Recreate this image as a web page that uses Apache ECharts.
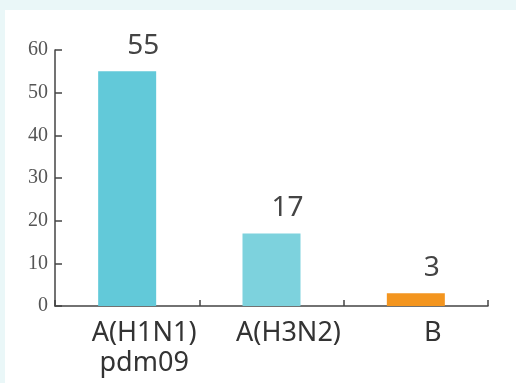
<!DOCTYPE html>
<html><head><meta charset="utf-8">
<script src="https://cdn.jsdelivr.net/npm/echarts@6/dist/echarts.min.js"></script>
<style>html,body{margin:0;padding:0;background:#fff;}#c{width:516px;height:383px;}</style>
</head><body><div id="c"></div>
<script>
var categories = ['A(H1N1)\npdm09', 'A(H3N2)', 'B'];
var values = [55, 17, 3];
var barColors = ['#62c9d9', '#7dd2dd', '#f3951f'];
var yTicks = [0, 10, 20, 30, 40, 50, 60];

var chart = echarts.init(document.getElementById('c'), null, {renderer: 'canvas'});
chart.setOption({
  backgroundColor: '#eaf7f8',
  animation: false,
  graphic: [{type: 'rect', shape: {x: 5, y: 10, width: 520, height: 380}, style: {fill: '#ffffff'}, z: -10, silent: true}],
  grid: {left: 55, right: 28, top: 50, bottom: 77, containLabel: false},
  xAxis: {
    type: 'category',
    data: categories,
    axisLine: {lineStyle: {color: '#444', width: 1.5}},
    axisTick: {show: true, inside: true, length: 6, alignWithLabel: false, lineStyle: {color: '#444', width: 1.5}},
    axisLabel: {color: '#333', fontSize: 27, fontFamily: 'Noto Sans', lineHeight: 30, margin: 12, interval: 0, padding: [0, 0, 0, 34]}
  },
  yAxis: {
    type: 'value',
    min: yTicks[0], max: yTicks[yTicks.length - 1], interval: 10,
    splitLine: {show: false},
    axisLine: {show: true, lineStyle: {color: '#444', width: 1.5}},
    axisTick: {show: true, inside: true, length: 7, lineStyle: {color: '#444', width: 1.5}},
    axisLabel: {color: '#555', fontSize: 20, fontFamily: 'Liberation Serif', margin: 7, padding: [5, 0, 0, 0]}
  },
  series: [{
    type: 'bar',
    data: values.map(function (v, i) { return {value: v, itemStyle: {color: barColors[i]}}; }),
    barWidth: 58,
    label: {show: true, position: 'top', distance: 11, offset: [16, 0], color: '#444', fontSize: 28, fontFamily: 'Noto Sans'}
  }]
});
</script></body></html>
